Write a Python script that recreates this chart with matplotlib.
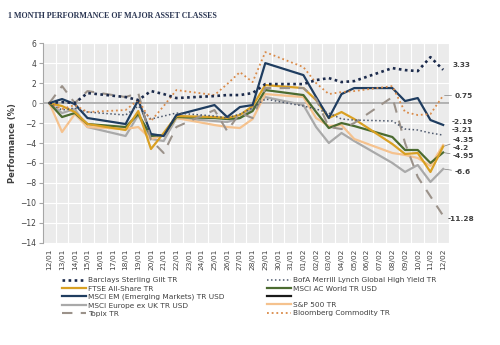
import matplotlib.pyplot as plt
from matplotlib.lines import Line2D
import numpy as np

nan = np.nan

# Category axis: every calendar day of the month
dates = ['12/01', '13/01', '14/01', '15/01', '16/01', '17/01', '18/01', '19/01',
         '20/01', '21/01', '22/01', '23/01', '24/01', '25/01', '26/01', '27/01',
         '28/01', '29/01', '30/01', '31/01', '01/02', '02/02', '03/02', '04/02',
         '05/02', '06/02', '07/02', '08/02', '09/02', '10/02', '11/02', '12/02']

# Days with a closing value (weekends are left out)
trading_days = ['12/01', '13/01', '14/01', '15/01', '18/01', '19/01', '20/01', '21/01',
                '22/01', '25/01', '26/01', '27/01', '28/01', '29/01', '01/02', '02/02',
                '03/02', '04/02', '05/02', '08/02', '09/02', '10/02', '11/02', '12/02']

# Cumulative performance (%) since 12/01
gilt = [0, 0.1, 0.0, 1.0, 0.6, 0.3, 1.2, 0.9, 0.5, 0.7, 0.8, 0.8,
        1.0, 1.9, 1.9, 2.3, 2.5, 2.1, 2.2, 3.5, 3.3, 3.2, 4.6, 3.33]
high_yield = [0, -0.7, -0.5, -0.9, -1.2, -0.3, -1.6, -1.3, -1.0, -1.3, -1.5, -1.1,
              -0.5, 0.4, -0.3, -0.6, -1.0, -1.6, -1.7, -1.8, -2.6, -2.7, -3.0, -3.21]
ftse = [0, -0.3, -0.9, -2.1, -2.7, -0.8, -4.6, -3.0, -1.3, -1.4, -1.5, -1.2,
        -0.3, 1.8, 1.5, 0.3, -1.5, -0.9, -1.6, -4.1, -5.1, -5.0, -6.9, -4.35]
ac_world = [0, -1.4, -1.0, -2.1, -2.4, -1.1, -3.3, -3.2, -1.4, -1.5, -1.6, -1.5,
            -0.8, 1.3, 0.8, -0.9, -2.5, -2.0, -2.3, -3.4, -4.7, -4.7, -6.0, -4.95]
em = [0, 0.4, -0.1, -1.5, -2.1, 0.3, -3.1, -3.3, -1.2, -0.2, -1.4, -0.4,
      -0.2, 4.0, 2.8, 0.6, -1.5, 0.9, 1.5, 1.5, 0.2, 0.5, -1.7, -2.19]
europe_ex_uk = [0, -1.0, -0.6, -2.4, -3.3, -1.2, -3.6, -3.8, -1.5, -1.8, -1.9, -1.5,
                -0.5, 0.6, -0.2, -2.4, -4.0, -3.0, -3.8, -6.0, -6.9, -6.2, -7.9, -6.6]
sp500 = [0, -2.9, -1.1, -2.4, -2.6, -2.4, -3.6, -3.2, -1.5, -2.2, -2.4, -2.5,
         -1.6, 0.9, 0.6, -1.5, -2.3, -2.2, -3.6, -5.0, -5.2, -5.5, -6.3, -4.2]
topix = [0, 1.7, 0.0, 1.2, 0.6, 1.0, -3.7, -5.0, -2.4, -0.7, -2.8, -1.0,
         -1.5, 1.5, 1.5, 0.4, -2.4, -2.6, -2.0, 0.6, -4.0, -7.4, nan, -11.28]
commodity = [0, -0.6, -0.2, -0.9, -0.7, 0.3, -1.8, -0.3, 1.3, 0.8, 1.9, 3.1,
             2.1, 5.1, 3.6, 2.0, 0.9, 1.1, 1.2, 1.7, -0.9, -1.2, -1.1, 0.75]

x = np.array([dates.index(d) for d in trading_days])

fig = plt.figure(figsize=(5.0, 3.45), dpi=100)
ax = fig.add_axes([0.086, 0.296, 0.813, 0.579])
ax.set_facecolor('#ebebeb')


def draw(values, **kw):
    v = np.array(values, dtype=float)
    ok = ~np.isnan(v)
    return ax.plot(x[ok], v[ok], **kw)[0]


ax.axhline(0, color='#a6a6a6', lw=1.2, zorder=1.5)

l_eu = draw(europe_ex_uk, color='#a9a9a9', lw=1.6)
l_sp = draw(sp500, color='#f5c28e', lw=1.6)
l_acw = draw(ac_world, color='#4b6b30', lw=1.6)
l_ftse = draw(ftse, color='#d9a023', lw=1.6)
l_em = draw(em, color='#1f3d60', lw=1.6)
l_tpx = draw(topix, color='#9b928a', lw=1.5, dashes=(5, 4))
l_hy = draw(high_yield, color='#4d586c', lw=1.1, linestyle=(0, (1, 1.6)))
l_com = draw(commodity, color='#d98a48', lw=1.3, linestyle=(0, (1, 1.6)))
l_gilt = draw(gilt, color='#1c2b4c', lw=1.9, linestyle=(0, (1, 1.3)))
l_blank = Line2D([], [], color='#1a1a1a', lw=1.6)

ax.set_xlim(-0.5, len(dates) - 0.5)
ax.set_ylim(-14, 6)
ax.set_yticks(np.arange(-14, 7, 2))
ax.set_xticks(np.arange(len(dates)))
ax.set_xticklabels(dates, rotation=90)
ax.set_xticks(np.arange(len(dates) + 1) - 0.5, minor=True)
ax.tick_params(axis='x', which='major', length=0, pad=4, labelsize=5.3, labelcolor='#404040')
ax.tick_params(axis='x', which='minor', length=0)
ax.tick_params(axis='y', length=3, color='#a6a6a6', pad=2, labelsize=5.5, labelcolor='#404040')
ax.grid(True, axis='x', which='minor', color='white', lw=0.8)
ax.grid(True, axis='y', which='major', color='white', lw=0.8)
ax.set_axisbelow(True)
for side in ['top', 'right', 'bottom']:
    ax.spines[side].set_visible(False)
ax.spines['left'].set_color('#a6a6a6')
ax.spines['left'].set_linewidth(0.8)

ax.set_ylabel('Performance (%)', fontsize=6, fontweight='bold', color='#404040', labelpad=2)

# Closing values at the right end
end_labels = [
    (gilt[-1], 6.5, 3.4, False),
    (commodity[-1], 8.0, 0.0, True),
    (em[-1], 6.0, 2.4, False),
    (high_yield[-1], 6.0, 3.6, False),
    (ftse[-1], 7.0, 5.0, True),
    (sp500[-1], 7.0, -2.4, False),
    (ac_world[-1], 7.0, -2.6, True),
    (europe_ex_uk[-1], 8.0, -2.0, True),
    (topix[-1], 3.0, -2.6, False),
]
for val, dx, dy, leader in end_labels:
    arrow = dict(arrowstyle='-', color='#7f7f7f', lw=0.5, shrinkA=0, shrinkB=1) if leader else None
    ax.annotate(f'{val:g}', xy=(x[-1], val), xytext=(dx, dy), textcoords='offset points',
                fontsize=5.3, fontweight='bold', color='#404040', va='center', ha='left',
                arrowprops=arrow, annotation_clip=False)

fig.text(0.016, 0.953, '1 MONTH PERFORMANCE OF MAJOR ASSET CLASSES', family='Liberation Serif',
         fontsize=5.8, fontweight='bold', color='#2a3552', va='center')

leg_kw = dict(frameon=False, fontsize=5.3, handlelength=3.3, handletextpad=0.3,
              labelspacing=0.28, borderaxespad=0, labelcolor='#404040')
fig.legend([l_gilt, l_ftse, l_em, l_eu, l_tpx],
           ['Barclays Sterling Gilt TR', 'FTSE All-Share TR', 'MSCI EM (Emerging Markets) TR USD',
            'MSCI Europe ex UK TR USD', 'Topix TR'],
           loc='upper left', bbox_to_anchor=(0.118, 0.205), **leg_kw)
fig.legend([l_hy, l_acw, l_blank, l_sp, l_com],
           ['BofA Merrill Lynch Global High Yield TR', 'MSCI AC World TR USD', '',
            'S&P 500 TR', 'Bloomberg Commodity TR'],
           loc='upper left', bbox_to_anchor=(0.528, 0.205), **leg_kw)

fig.savefig('out.png', dpi=100)
